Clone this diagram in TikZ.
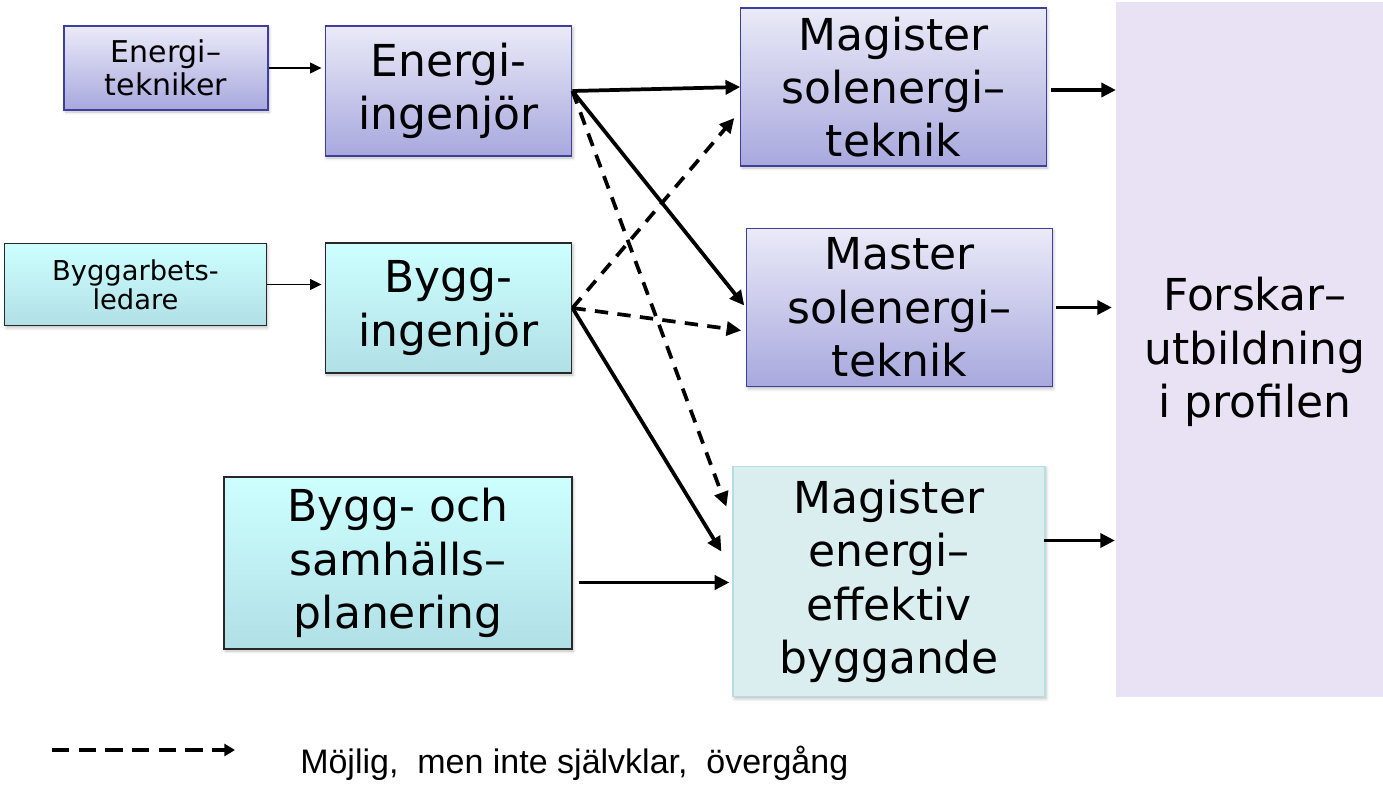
\documentclass[tikz,border=0pt]{standalone}
\usepackage{fontspec}
\setmainfont{DejaVu Sans}
\newfontfamily\legendfont{Liberation Sans}
\usepackage{tikz}
\usetikzlibrary{arrows.meta}
\usetikzlibrary{calc}
\usetikzlibrary{shadows.blur}

\definecolor{lavtop}{RGB}{234,234,248}
\definecolor{lavbot}{RGB}{168,168,222}
\definecolor{lavline}{RGB}{62,62,156}
\definecolor{cyantop}{RGB}{206,255,255}
\definecolor{cyanbot}{RGB}{176,224,230}
\definecolor{cyanline}{RGB}{40,40,40}
\definecolor{efffill}{RGB}{218,238,240}
\definecolor{effline}{RGB}{184,222,228}
\definecolor{forskfill}{RGB}{233,226,245}

\begin{document}
\begin{tikzpicture}[x=0.75pt,y=0.75pt,yscale=-1,xscale=1,
    box/.style={inner sep=0pt, align=center, blur shadow={shadow xshift=1pt, shadow yshift=-1.5pt, shadow blur steps=4, shadow opacity=25}},
    lavbox/.style={box, draw=lavline, line width=0.9pt, top color=lavtop, bottom color=lavbot},
    cyanbox/.style={box, draw=cyanline, line width=0.9pt, top color=cyantop, bottom color=cyanbot},
    bigtxt/.style={font=\fontsize{33}{40}\selectfont},
    smalltxt/.style={font=\fontsize{22.5}{25}\selectfont},
    thickarr/.style={line width=2.8pt, -{Triangle[length=11pt,width=10.5pt]}},
    thinarr/.style={line width=1.2pt, -{Triangle[length=8.5pt,width=8pt]}},
    dasharr/.style={thickarr, dash pattern=on 10pt off 7pt}]

    \useasboundingbox (0,0) rectangle (1383,786);

    % left column
    \draw (166,68) node [lavbox, smalltxt, minimum width=153pt, minimum height=63pt] (etek) {Energi–\\tekniker};
    \draw (448.5,91) node [lavbox, bigtxt, minimum width=185pt, minimum height=97.5pt] (eing) {Energi-\\ingenjör};
    \draw (135.5,284.5) node [cyanbox, font=\fontsize{20.5}{22}\selectfont, minimum width=196pt, minimum height=62pt] (byl) {Byggarbets-\\ledare};
    \draw (448.5,308) node [cyanbox, bigtxt, minimum width=185pt, minimum height=97.5pt] (bing) {Bygg-\\ingenjör};
    \draw (398,563) node [cyanbox, bigtxt, minimum width=261pt, minimum height=129pt] (bosp) {Bygg- och\\samhälls–\\planering};

    % right column
    \draw (893.5,87) node [lavbox, bigtxt, minimum width=229pt, minimum height=118.5pt] (msol) {Magister\\solenergi–\\teknik};
    \draw (899.5,307.5) node [lavbox, bigtxt, minimum width=229pt, minimum height=119pt] (mast) {Master\\solenergi–\\teknik};
    \draw (889,581.5) node [box, bigtxt, draw=effline, line width=0.9pt, fill=efffill, minimum width=234pt, minimum height=173pt] (meff) {Magister\\energi–\\effektiv\\byggande};
    \draw (1249.5,349.5) node [inner sep=0pt, bigtxt, fill=forskfill, minimum width=200pt, minimum height=521pt] (forsk) {};
    \draw (1255,352) node [bigtxt, align=center, inner sep=0pt] (forsktxt) {Forskar–\\utbildning\\i profilen};

    % connectors
    \draw [thinarr] (etek.east) -- ($(etek.east -| eing.west)+(-3,0)$);
    \draw [thinarr] (byl.east) -- ($(byl.east -| bing.west)+(-3,0)$);
    \draw [thickarr] (eing.east) -- (msol.west);
    \draw [thickarr] (eing.east) -- ($(mast.west)+(-2,-2)$);
    \draw [dasharr] (eing.east) -- ($(meff.north west)+(-6,41)$);
    \draw [dasharr] (bing.east) -- ($(msol.west)+(-6,31)$);
    \draw [dasharr] (bing.east) -- ($(mast.west)+(-5,23)$);
    \draw [thickarr] (bing.east) -- ($(meff.north west)+(-11,86)$);
    \draw [thickarr] ($(bosp.east |- meff.west)+(6,1)$) -- ($(meff.west)+(-3,1)$);
    \draw [thickarr] ($(msol.east)+(4,3)$) -- (forsk.west |- {$(msol.east)+(0,3)$});
    \draw [thickarr] ($(mast.east)+(3,0)$) -- ($(forsk.west |- mast.east)+(-4,0)$);
    \draw [thickarr] ($(meff.east)+(-2,-41)$) -- ($(forsk.west |- meff.east)+(-1,-41)$);

    % legend
    \coordinate (legA) at (52,750);
    \coordinate (legB) at (235,750);
    \draw [line width=3pt, dash pattern=on 13pt off 7pt, -{Triangle[length=8pt,width=9pt]}] (legA) -- (legB);
    \draw (300,763) node [anchor=west, inner sep=0pt, font=\legendfont\fontsize{25.5}{30}\selectfont] (legtxt) {Möjlig,~ men inte självklar,~ övergång};
\end{tikzpicture}
\end{document}
